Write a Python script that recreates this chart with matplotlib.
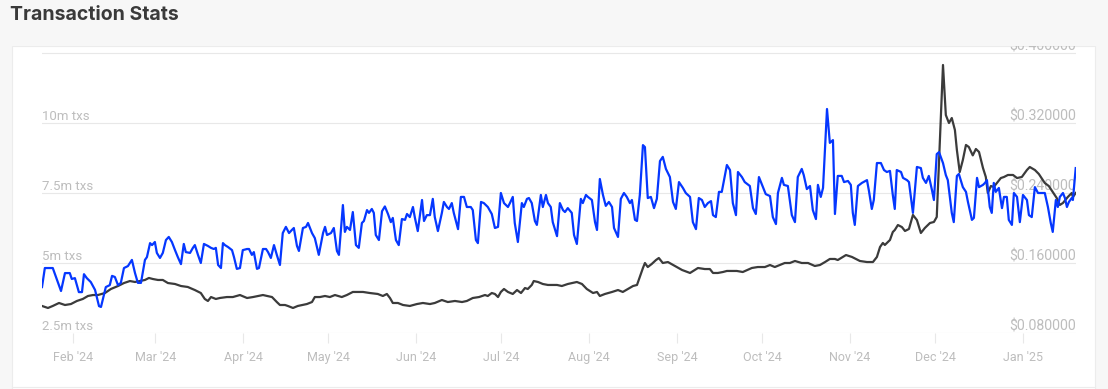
import matplotlib
matplotlib.use("Agg")
import matplotlib.pyplot as plt
import matplotlib.transforms as mtransforms
from matplotlib.patches import Rectangle
from matplotlib.lines import Line2D
import pandas as pd

# ---------------- data ----------------
base_date = "2024-02-01"

# daily transactions (millions) - day offset from base_date
tx_days = [-10.9, -9.9, -7.1, -4.2, -2.8, -1.1, -0.4, 0.7, 2.1, 3.2, 3.9, 4.9, 6.3, 7.8, 9.2, 9.9,
           11.6, 13.0, 13.8, 14.8, 15.9, 16.9, 18.0, 19.4, 20.8, 21.9, 22.9, 24.0, 25.4, 26.1, 27.2,
           27.9, 28.9, 29.6, 30.7, 31.7, 32.8, 33.8, 34.9, 36.0, 37.0, 38.1, 39.1, 39.8, 41.3, 42.3,
           43.0, 44.1, 45.1, 46.2, 47.6, 48.7, 49.7, 50.4, 51.2, 52.2, 52.9, 53.6, 54.7, 56.1, 56.8,
           57.8, 58.9, 59.9, 61.4, 62.1, 63.1, 63.8, 64.9, 65.6, 67.0, 68.1, 68.8, 69.8, 70.9, 71.9,
           73.0, 74.0, 75.1, 76.2, 77.2, 77.9, 79.0, 79.7, 81.1, 82.2, 82.9, 84.3, 85.3, 86.7, 88.2,
           88.9, 89.6, 91.0, 92.0, 93.1, 93.8, 95.2, 95.9, 96.6, 97.7, 98.7, 99.8, 100.8, 101.9,
           102.6, 103.7, 104.4, 105.4, 106.1, 106.8, 107.9, 109.0, 110.0, 111.1, 112.1, 112.8,
           113.9, 114.9, 116.0, 117.1, 117.8, 118.8, 119.9, 120.6, 121.6, 123.1, 123.8, 124.8,
           125.9, 126.9, 127.6, 128.7, 130.1, 130.8, 131.9, 132.6, 133.6, 134.3, 135.8, 136.8,
           137.9, 138.9, 140.3, 141.0, 142.1, 142.8, 143.9, 144.9, 146.3, 147.7, 148.8, 149.9,
           150.9, 152.0, 153.4, 154.1, 155.1, 155.8, 156.9, 158.3, 159.0, 160.1, 160.8, 161.8,
           162.9, 163.6, 165.0, 165.7, 166.8, 167.5, 168.5, 169.2, 170.7, 171.7, 172.8, 173.5,
           174.5, 175.9, 176.7, 177.7, 179.1, 179.8, 180.9, 181.6, 183.0, 184.1, 184.8, 185.8,
           186.9, 187.9, 189.0, 190.1, 190.8, 192.2, 193.2, 194.3, 195.3, 196.4, 197.1, 198.2,
           198.9, 199.9, 201.0, 201.7, 202.7, 203.8, 204.9, 205.9, 207.0, 208.0, 209.1, 210.5,
           211.6, 212.6, 213.7, 215.1, 216.1, 217.6, 218.6, 219.7, 220.7, 221.8, 222.8, 223.9,
           225.0, 225.7, 226.7, 227.8, 228.8, 230.6, 231.7, 232.7, 233.8, 234.5, 235.9, 236.9,
           238.7, 239.8, 240.8, 241.9, 243.3, 244.3, 245.8, 246.8, 247.9, 248.6, 250.0, 250.7,
           252.1, 253.5, 254.6, 255.6, 257.0, 257.7, 258.8, 259.9, 260.9, 262.0, 262.7, 263.7,
           264.5, 265.9, 266.9, 268.0, 268.7, 269.7, 271.1, 271.9, 273.3, 274.3, 275.0, 275.7,
           276.8, 278.2, 280.0, 280.7, 281.7, 282.4, 283.5, 284.9, 286.0, 287.0, 288.1, 289.1,
           289.8, 290.5, 292.0, 292.7, 294.1, 294.8, 296.2, 297.6, 299.0, 299.7, 300.8, 301.8,
           302.9, 303.6, 304.6, 305.4, 306.8, 307.8, 308.5, 309.9, 310.6, 311.7, 312.4, 313.8,
           314.9, 315.6, 317.0, 317.7, 318.8, 319.5, 320.9, 321.6, 322.3, 323.3, 324.0, 324.7,
           325.4, 326.5, 327.6, 328.3, 329.3, 330.0, 331.1, 331.8, 332.9, 333.9, 335.0, 336.4,
           337.1, 338.1, 339.2, 340.3, 341.7, 342.7, 343.8, 344.8, 345.5, 346.6, 347.3, 348.0,
           349.1, 349.8, 350.5, 351.2, 352.2, 352.6, 353.6]
tx_millions = [4.14, 4.82, 4.82, 4.00, 4.64, 4.64, 4.43, 4.46, 3.96, 3.96, 4.60, 4.46, 4.32, 4.04, 3.46, 3.43,
               4.14, 4.21, 4.54, 4.50, 4.21, 4.29, 4.82, 4.89, 5.11, 4.64, 4.29, 4.29, 5.11, 5.21, 5.71,
               5.64, 5.75, 5.36, 5.18, 5.36, 5.82, 5.93, 5.75, 5.46, 5.21, 4.96, 5.68, 5.39, 5.36, 5.54,
               5.64, 5.29, 5.00, 5.68, 5.61, 5.54, 5.50, 5.54, 4.93, 4.82, 5.71, 5.64, 5.57, 5.46, 5.21,
               4.79, 4.82, 5.46, 5.50, 5.50, 5.29, 5.39, 4.79, 4.82, 5.50, 5.50, 5.39, 5.18, 5.64, 5.29,
               4.93, 6.07, 6.29, 6.07, 6.18, 6.25, 5.61, 5.43, 6.25, 6.29, 6.43, 6.07, 5.89, 5.29, 6.07,
               6.29, 6.00, 6.07, 6.25, 5.43, 5.29, 7.07, 6.11, 6.29, 6.18, 6.82, 5.64, 5.54, 6.43,
               6.50, 6.89, 6.79, 6.93, 6.79, 6.00, 5.82, 6.85, 7.02, 6.75, 6.46, 6.61,
               5.82, 5.64, 6.57, 6.54, 6.75, 6.64, 7.00, 6.61, 6.14, 7.25, 6.50, 6.71,
               6.71, 7.29, 6.64, 6.14, 6.79, 7.18, 7.00, 6.93, 7.14, 6.79, 6.21, 7.36,
               7.36, 7.00, 7.00, 6.89, 5.82, 5.71, 7.18, 7.14, 7.00, 6.75, 6.25, 6.29,
               7.50, 7.14, 7.00, 7.14, 7.36, 6.43, 5.75, 7.14, 7.00, 7.29, 7.32, 7.14,
               6.50, 6.36, 7.43, 7.00, 7.43, 7.14, 7.00, 6.46, 5.96, 7.14, 6.89, 6.82,
               6.96, 6.79, 6.00, 5.68, 7.29, 7.14, 7.43, 7.36, 7.25, 6.46, 6.18, 8.00,
               7.43, 7.04, 7.18, 7.00, 6.25, 5.93, 7.29, 7.50, 7.36, 7.14, 7.25, 6.54,
               6.50, 7.43, 9.21, 9.14, 7.32, 7.36, 6.96, 7.29, 8.64, 8.79, 8.36, 8.07,
               7.18, 6.93, 7.89, 7.68, 7.50, 7.36, 6.46, 6.21, 7.32, 7.25, 7.00, 7.14,
               7.21, 6.71, 6.64, 7.54, 7.54, 8.50, 8.32, 7.14, 6.71, 8.25, 8.07, 7.89,
               7.75, 6.96, 6.75, 8.07, 7.71, 7.46, 7.39, 6.64, 6.39, 7.50, 8.04, 7.79,
               7.75, 6.71, 6.46, 8.07, 8.36, 8.14, 7.64, 7.75, 6.89, 6.57, 7.79, 7.36,
               7.68, 10.50, 9.29, 9.39, 6.75, 8.11, 8.11, 7.89, 7.93, 7.79, 6.79, 6.36,
               7.75, 7.86, 7.96, 7.57, 6.93, 7.25, 8.57, 8.57, 8.32, 8.25, 8.29, 7.43,
               6.93, 8.32, 8.25, 8.04, 7.96, 7.89, 6.79, 8.43, 8.39, 8.04, 7.86, 8.11,
               7.61, 7.25, 8.89, 8.96, 8.57, 8.14, 7.96, 6.79, 6.46, 8.11, 8.18, 7.71,
               7.54, 7.18, 6.54, 6.61, 8.04, 7.71, 7.79, 7.86, 7.96, 7.00, 6.79, 7.86,
               7.54, 7.68, 6.96, 7.36, 7.36, 6.54, 6.36, 7.50, 7.36, 6.46, 7.43, 7.25,
               6.71, 6.64, 7.71, 7.50, 7.50, 7.50, 7.00, 6.43, 6.11, 7.25, 7.00, 7.36,
               7.50, 7.32, 7.00, 7.18, 7.32, 7.25, 8.39]

# token price (USD) - day offset from base_date
price_days = [-10.9, -8.8, -7.1, -4.9, -2.8, -0.7, 1.4, 3.5, 5.3, 7.1, 8.8, 11.3, 13.4, 15.9, 18.0,
              20.1, 21.9, 23.6, 25.4, 26.8, 28.2, 30.0, 31.7, 33.5, 36.0, 38.1, 40.5, 43.0, 45.1,
              46.5, 47.6, 48.7, 50.4, 51.8, 54.3, 56.4, 58.9, 61.4, 63.5, 67.0, 70.2, 71.9, 73.0,
              74.8, 75.8, 77.6, 79.3, 82.5, 84.3, 85.3, 87.1, 88.9, 90.6, 92.4, 94.8, 96.6, 98.7,
              102.3, 104.7, 107.5, 109.3, 110.7, 111.8, 112.8, 114.6, 116.4, 118.8, 121.3, 123.4,
              125.9, 127.6, 130.1, 132.2, 134.7, 137.2, 138.9, 141.0, 143.2, 145.3, 146.3, 147.7,
              148.8, 149.9, 150.9, 152.0, 153.4, 155.1, 156.6, 158.0, 159.4, 160.4, 161.8, 162.5,
              164.0, 165.7, 167.5, 169.2, 170.7, 172.4, 174.5, 177.7, 179.5, 181.2, 183.4, 184.8,
              185.8, 187.6, 190.1, 192.2, 193.9, 195.7, 197.5, 198.9, 199.9, 201.0, 201.7, 202.7,
              204.1, 205.6, 206.6, 208.0, 209.8, 212.3, 214.8, 217.6, 220.4, 222.8, 224.6, 225.7,
              227.4, 229.2, 230.6, 234.1, 236.2, 239.4, 241.5, 244.0, 245.8, 247.5, 249.3, 251.0,
              252.8, 254.6, 257.0, 259.2, 261.6, 263.4, 265.2, 266.9, 268.7, 269.7, 272.6, 274.7,
              277.5, 280.0, 282.1, 283.5, 284.6, 285.6, 286.3, 287.4, 288.1, 289.1, 289.8, 290.9,
              292.3, 293.4, 294.8, 296.2, 297.6, 299.0, 300.4, 302.2, 303.6, 304.6, 306.8, 307.8,
              308.9, 309.9, 311.0, 311.7, 312.7, 313.8, 314.9, 315.9, 317.3, 318.4, 319.5, 320.9,
              321.9, 322.6, 323.7, 324.7, 325.8, 327.2, 328.3, 329.7, 331.5, 332.9, 334.6, 336.4,
              337.4, 339.2, 340.6, 342.7, 344.1, 345.5, 346.9, 348.0, 349.1, 350.8, 352.2, 352.6,
              353.6]
price_usd = [0.1109, 0.1086, 0.1109, 0.1143, 0.1120, 0.1131, 0.1166, 0.1189, 0.1223, 0.1234, 0.1234,
             0.1257, 0.1303, 0.1337, 0.1371, 0.1394, 0.1383, 0.1394, 0.1406, 0.1429, 0.1417, 0.1406,
             0.1406, 0.1371, 0.1360, 0.1337, 0.1326, 0.1291, 0.1257, 0.1189, 0.1166, 0.1211, 0.1189,
             0.1200, 0.1211, 0.1211, 0.1234, 0.1200, 0.1211, 0.1234, 0.1211, 0.1154, 0.1120, 0.1120,
             0.1109, 0.1086, 0.1109, 0.1131, 0.1154, 0.1211, 0.1211, 0.1223, 0.1211, 0.1234, 0.1211,
             0.1234, 0.1269, 0.1269, 0.1257, 0.1246, 0.1223, 0.1246, 0.1200, 0.1143, 0.1143, 0.1120,
             0.1109, 0.1131, 0.1143, 0.1131, 0.1143, 0.1177, 0.1154, 0.1166, 0.1154, 0.1166, 0.1200,
             0.1211, 0.1234, 0.1223, 0.1257, 0.1246, 0.1211, 0.1269, 0.1303, 0.1269, 0.1246, 0.1291,
             0.1257, 0.1314, 0.1303, 0.1349, 0.1394, 0.1383, 0.1360, 0.1349, 0.1349, 0.1349, 0.1337,
             0.1360, 0.1383, 0.1360, 0.1303, 0.1257, 0.1269, 0.1223, 0.1246, 0.1269, 0.1291, 0.1269,
             0.1303, 0.1337, 0.1349, 0.1440, 0.1543, 0.1600, 0.1554, 0.1589, 0.1634, 0.1657, 0.1600,
             0.1611, 0.1566, 0.1520, 0.1486, 0.1543, 0.1531, 0.1531, 0.1486, 0.1486, 0.1497, 0.1509,
             0.1509, 0.1497, 0.1543, 0.1554, 0.1554, 0.1577, 0.1554, 0.1577, 0.1600, 0.1600, 0.1623,
             0.1600, 0.1600, 0.1566, 0.1577, 0.1611, 0.1646, 0.1646, 0.1634, 0.1691, 0.1669, 0.1623,
             0.1611, 0.1611, 0.1669, 0.1783, 0.1829, 0.1806, 0.1840, 0.1863, 0.1954, 0.1977, 0.2034,
             0.2011, 0.1966, 0.1989, 0.2149, 0.2091, 0.1943, 0.2000, 0.2057, 0.2069, 0.2126, 0.3863,
             0.3291, 0.3200, 0.3257, 0.3120, 0.2891, 0.2640, 0.2777, 0.2949, 0.2926, 0.2830, 0.2903,
             0.2869, 0.2686, 0.2583, 0.2400, 0.2480, 0.2469, 0.2514, 0.2571, 0.2583, 0.2606, 0.2606,
             0.2571, 0.2583, 0.2663, 0.2697, 0.2663, 0.2617, 0.2514, 0.2480, 0.2411, 0.2343, 0.2263,
             0.2286, 0.2354, 0.2400, 0.2354, 0.2400]

tx_ticks = [2.5, 5.0, 7.5, 10.0]
tx_tick_labels = ["2.5m txs", "5m txs", "7.5m txs", "10m txs"]
price_ticks = [0.08, 0.16, 0.24, 0.32, 0.40]
price_tick_labels = ["$0.080000", "$0.160000", "$0.240000", "$0.320000", "$0.400000"]
month_starts = pd.date_range("2024-02-01", "2025-01-01", freq="MS")
title = "Transaction Stats"

# ---------------- figure ----------------
W, H = 1108, 389
PAGE = "#f7f7f7"
GRID = "#e8e8e8"
LABEL = "#bdbdbd"
BLUE = "#0537ff"
DARK = "#3b3b3b"

fig = plt.figure(figsize=(W / 100, H / 100), dpi=100)
fig.patch.set_facecolor(PAGE)

# white card
card = Rectangle((12 / W, 0), (1095 - 12) / W, (H - 46) / H, transform=fig.transFigure,
                 facecolor="white", edgecolor="#ececec", linewidth=0.8, zorder=-2)
fig.add_artist(card)
# faint border of the element below the chart
fig.add_artist(Line2D([12 / W, 1095 / W], [2.5 / H, 2.5 / H], transform=fig.transFigure,
                      color="#ececec", lw=0.8, zorder=-1))

ax = fig.add_axes([42 / W, 56 / H, 1034 / W, 286 / H])
ax.set_facecolor("none")
ax2 = ax.twinx()
ax2.set_facecolor("none")

base = pd.Timestamp(base_date)
tx_dates = base + pd.to_timedelta(tx_days, unit="D")
price_dates = base + pd.to_timedelta(price_days, unit="D")

ax2.plot(price_dates, price_usd, color=DARK, lw=1.6, solid_joinstyle="round", zorder=2)
ax.plot(tx_dates, tx_millions, color=BLUE, lw=1.6, solid_joinstyle="round", zorder=3)
ax.set_zorder(ax2.get_zorder() + 1)

ax.set_xlim(base + pd.Timedelta(days=-10.9), base + pd.Timedelta(days=353.7))
ax.set_ylim(2.5, 2.5 + 286 / 28)
ax2.set_ylim(0.08, 0.08 + 286 / 875)

for a in (ax, ax2):
    for s in a.spines.values():
        s.set_visible(False)
    a.set_yticks([])

# gridlines
for v in tx_ticks + [12.5]:
    ax2.axhline(0.08 + (v - 2.5) * 0.032, color=GRID, lw=0.8, zorder=0)

# x ticks
ax.set_xticks(month_starts)
ax.set_xticklabels([d.strftime("%b '%y") for d in month_starts])
ax.tick_params(axis="x", length=7.2, width=0.8, color=GRID, pad=6,
               labelsize=9, labelcolor=LABEL)
for t in ax.get_xticklabels():
    t.set_fontfamily("Roboto")

# left labels
trL = mtransforms.offset_copy(mtransforms.blended_transform_factory(ax.transAxes, ax.transData),
                              fig=fig, x=0, y=3, units="dots")
for v, lab in zip(tx_ticks, tx_tick_labels):
    ax.text(0, v, lab, transform=trL, ha="left", va="baseline", fontsize=9.5,
            color=LABEL, family="Roboto", zorder=1)

# right labels
trR = mtransforms.offset_copy(mtransforms.blended_transform_factory(ax2.transAxes, ax2.transData),
                              fig=fig, x=0, y=3, units="dots")
for v, lab in zip(price_ticks, price_tick_labels):
    ax2.text(1, v, lab, transform=trR, ha="right", va="baseline", fontsize=10.2,
             color=LABEL, family="Roboto", zorder=1)

# header band over the top of the card
hdr = Rectangle((0, (H - 46) / H), 1, 46 / H, transform=fig.transFigure,
                facecolor=PAGE, edgecolor="none", zorder=5)
fig.add_artist(hdr)
fig.text(10 / W, 1 - 20 / H, title, ha="left", va="baseline", fontsize=14,
         fontweight="bold", color="#3a3a3a", family="Inter", zorder=6)

fig.savefig("out.png", dpi=100, facecolor=fig.get_facecolor())
